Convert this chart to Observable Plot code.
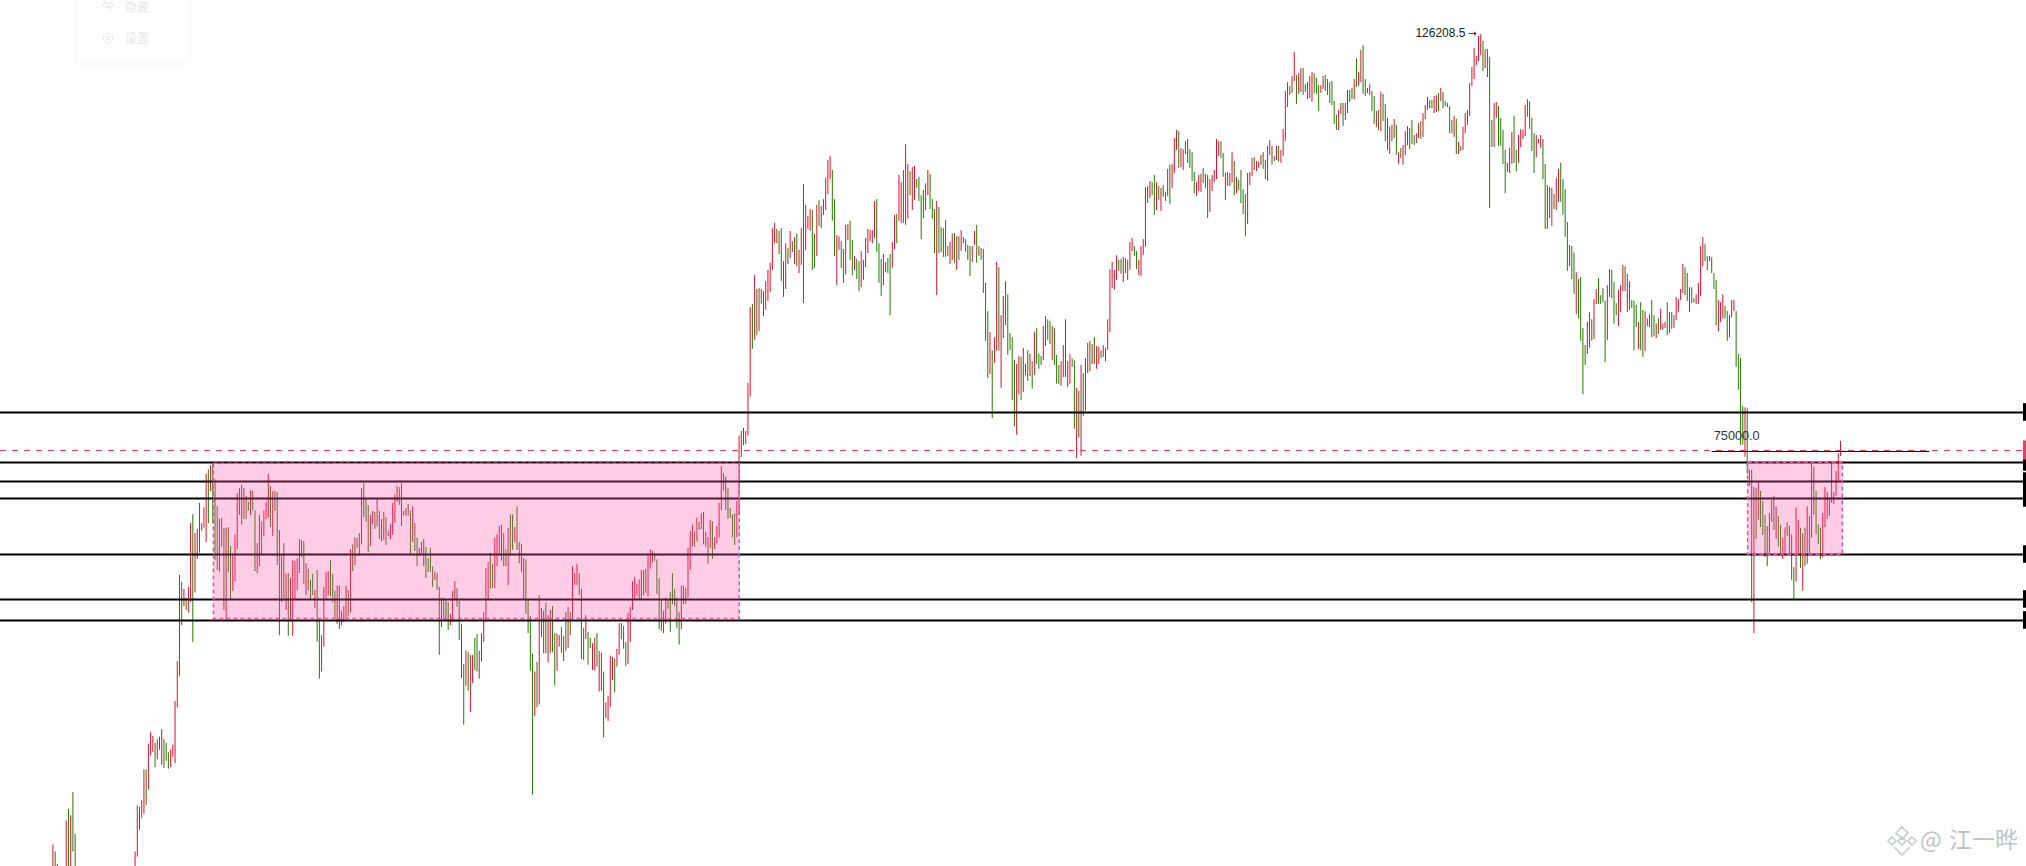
<!DOCTYPE html>
<html><head><meta charset="utf-8">
<script src="https://cdn.jsdelivr.net/npm/d3@7"></script>
<script src="https://cdn.jsdelivr.net/npm/@observablehq/plot@0.6"></script>
<style>
html,body{margin:0;padding:0;background:#fff;overflow:hidden}
#wrap{position:relative;width:2026px;height:866px;overflow:hidden}
#wrap svg.plot{display:block}
#menu{position:absolute;left:77px;top:0;width:111px;height:63px;background:#fff;border-radius:0 0 6px 6px;box-shadow:0 0 6px rgba(120,130,150,.10);font:12px/12px "Noto Sans CJK SC",sans-serif;color:#e6e8ed}
#menu div{position:absolute;left:48px}
#menu svg{position:absolute;left:24px}
#mark{position:absolute;left:1885px;top:824px;width:141px;height:34px;font:23px "Noto Sans CJK SC",sans-serif;color:#bcc6c3;white-space:nowrap}
#mark svg{position:absolute;left:0;top:0}
#mark span{position:absolute;top:-3px}
</style></head><body>
<div id="wrap">
<div id="chart"></div>
<div id="menu"><svg style="top:0" width="14" height="12" viewBox="0 0 14 12" fill="none" stroke="#e6e8ed"><path d="M1 5q6-5 12 0q-6 5-12 0zM3 1l8 9"/></svg><div style="top:1px">隐藏</div><svg style="top:32px" width="14" height="12" viewBox="0 0 14 12" fill="none" stroke="#e6e8ed"><circle cx="7" cy="6" r="5"/><circle cx="7" cy="6" r="2"/></svg><div style="top:32px">设置</div></div>
<div id="mark"><svg width="34" height="34" viewBox="0 0 34 34" fill="none" stroke="#c4ceca" stroke-width="1.6"><path d="M17 3l6 6-6 6-6-6zM7 13l4 4-4 4-4-4zM27 13l4 4-4 4-4-4zM17 13l4 4-4 4-4-4zM9 23l8 8 8-8"/></svg><span style="left:35px">@</span><span style="left:64px">江一晔</span></div>
</div>
<script>
// Prices in thousands of USD, one entry per daily candle. null = candle outside the visible price range.
const hiddenDays = 26;
const highsA=[45.9,45.5,44.8,null,null,null,47.3,48.0,47.6,49.0,46.5];
const lowsA=[44,44,44,null,null,null,44,44,44,45.5,44];
const dirsA="rgr---rgrgg";

const highsB=[45.5,48.2,48.1,48.5,50.4,50.4,52.05,52.8,52.55,52.1,
52.35,52.5,53,52.35,52.1,51.5,51.65,52,54.9,57.7,
64.25,63.7,63.15,62.45,63.3,68.55,69.3,67.7,68.05,70.3,
68.55,69.9,72.9,73.3,73.7,73.9,72.4,70,68.9,69,
68.15,68.15,68.2,66.6,66.05,67.6,71.15,71.6,71.9,71.6,
70.9,70.4,71.4,71.35,69.65,66.85,69.25,68.7,69.65,70.4,
72.9,71.8,71.35,71.35,71.25,67.95,65.85,66.85,64.35,64.4,
64,65.45,65.4,65.6,67.2,67.1,67,65.2,64.75,63.85,
64.35,63.05,64.65,60.75,59.6,63.3,64.5,64.55,65.45,64.35,
63,63.4,63.4,61.45,61.8,63.4,63.05,66.35,66.75,67.35,
67.3,67.7,71.6,72.05,70.65,70.1,69.25,69.6,69.5,70.65,
69.6,68.9,69.5,69.05,67.9,68.45,70.3,71.05,71.8,71.7,
72.05,69.6,69.85,70.2,69.6,70,68.55,67.3];
const lowsB=[44,45.2,46.75,47.45,47.7,48.2,49.15,51.3,51.5,50.55,
51.05,51.65,50.7,50.5,50.95,50.45,50.55,51.2,50.8,54.45,
56.65,60.35,61.8,61.5,61.3,62.1,59.1,62.85,65.55,66.05,
67.9,68.15,66.95,68.55,71.35,68.55,65.45,64.65,64.5,66.55,
61.5,60.75,64.5,62.3,63,63.75,66.35,69.25,68.4,68.9,
68.9,69.6,69.25,69.65,64.55,64.4,64.95,65.95,67.45,68.9,
69,68.2,67.45,69.6,65.05,59.6,62.1,62.2,61.5,59.55,
60.75,59.55,62.3,63.05,64.4,65.7,63.55,62.65,63.05,62.35,
62.65,61.65,59.1,56.45,56.95,58.75,62.3,62.65,62.55,62.1,
60.8,60.45,60.05,60.35,60.6,60.8,61,61.3,64.55,65.05,
66.45,65.8,66.75,69.05,68.65,66.1,66.6,68.45,68.05,68.3,
67.2,67,67.1,66.7,67.45,67.2,67.55,68.55,70.4,70.1,
68.3,69.2,69.2,69.2,65.95,66.95,66.2,64.95];
const dirsB="rrrrrgrrrg"+"rgrgggrrrr"+"rgrgrrgrrr"+"rrrgrgggrg"+"grggrrrrgr"+"ggrggrrgrr"+"rgrgggrgrg"+"rrrrrggrgg"+"grggrrrrgg"+"grgrrrgrgr"+"ggrgggrrgr"+"ggrgrrrrrg"+"ggrggrgg";

const highsC=[66.45,66.95,67.2,66.55,65.6,66.45,64.95,64.5,64.4,63.3,
62.45,62.45,62.3,62.1,61.2,63,63.75,63.2,62.2,60.45,
57.5,58.45,58.35,58.15,58.15,59.4,59.7,58.45,59.75,61.35,
64.8,65.3,66.05,65.15,67.3,67.6,68.3,68.4,67.7,66.35,
68.15,69.3,69.3,68.2,70,66.95,66.8,65.6,65.5,62.3,
61.05,58.25,56.95,57.65,62.65,61.65,61.45,62.05,61.1,61.5,
61.8,59.75,59.7,59.6,60.2,59.55,61.35,61.75,61.35,64.95,
64.4,65.15,64.4,63.15,60.15,61.1,59.85,59.4,59,59.4,
59.75,58.45,58.3,56.95,54.8,55.25,58.1,58,57.9,58.6,
60.5,60.5,60.3,59.1,61.3,61.75,63.75,64.1,63.55,63.9,
64.65,64.65,64.75,65.8,66.35,66.2,66.05,65.5,64,62.35,
61.45,62.45,62.3,62.9,64.4,63.15,62.45,61.35,63.4,63.4,
63.2,66.45,67.85,68.4,67.85,69,68.65,69.4,69.5,67.8,
67.35,68.8,68.7,67.35,68.3,70.3,73.6,72.95,72.65,71.6,
69.85,69.3,69.4,70.45,76.45];
const lowsC=[65.8,65.85,64.95,64,64.5,64.5,63.3,63.85,63.05,58.15,
60.2,60.75,60.75,60,60.35,60.6,62.3,61.75,59.25,56.5,
53.3,55.95,55.6,54.15,56.15,57.05,56.95,56.45,57.65,59.1,
60.6,62.3,63.15,63.2,63.2,64.95,65.85,65.4,64.95,64.95,
63.45,65.85,66.3,66.95,66.3,65.2,64.5,62.3,61.2,59.75,
57,48.85,53.85,54.45,54.65,59.45,58.25,58.25,57.6,58.3,
58.35,55.95,57,58.75,58.3,57.7,58.45,58.65,59.6,60.75,
63.45,63.45,62.65,57.85,57.8,59.3,57.45,58.65,57.05,57.05,
57.3,55.55,55.6,52.45,53.75,53.55,54.5,56.35,55.5,57.3,
58.15,59.3,58.6,57.35,57.5,59.1,61.5,62.35,62.65,62.35,
62.35,62.65,62.85,62.55,64.75,65.3,65.4,62.75,60.05,59.9,
59.75,60.45,61.6,59.85,61.95,61.8,60.15,58.9,60.05,61.95,
61.95,62.45,64.65,66.6,66.55,67,67.95,68.05,66.75,66.55,
65.15,66.45,65.55,66.35,66.85,67.3,69.65,71.4,69.65,68.9,
69,67.35,66.7,67.35,69.25];
const dirsC="rrgggggrgg"+"rgggrrrggg"+"grgrrggrrr"+"rrggrrrggg"+"rggrgggrgg"+"ggrgrgrgrr"+"ggrrgrgrgr"+"rrgggrggrr"+"grggrrrrgr"+"rgggrrrrrr"+"grgrrrgggg"+"rrggggggrr"+"grrrgrgrgr"+"grgrrrrggg"+"gggrr";

const highsD=[76.9,77.2,76.9,81.65,89.75,90.1,93.4,91.8,91.9,91.8,
91.55,92.7,94,94.85,99.05,99.7,98.95,98.7,99.05,95.05,
97.2,96.6,98.7,97.45,97.95,98.35,96.4,99.05,104.65,101.95,
100.55,101.45,101.3,98.35,101.95,102.6,101.8,102.7,105.45,107.85,
108.4,106.5,102.7,98.2,98.05,97.45,96.5,99.45,99.55,99.95,
97.6,95.65,95.3,95.05,96.25,95.2,97.85,98.95,98.8,98.8,
102.45,102.7,97.2,95.3,95.9,94.95,95.4,95.9,97.35,100.7,
100.8,105.85,104.9,106.5,110,107.3,106.35,106.9,107.05,105.3,
105.6,103.2,103.9,104.75,106.5,106,102.7,101.45,102.45,101.7,
99.2,99.05,100.05,96.85,97.35,98.35,98.45,98.05,98.05,98.8,
97.95,97.7,97,96.85,96.85,98.7,99.45,96.85,96.6,96.5,
92.5,89.3,87,85.05,86.45,94.95,94.35,88.85,91,92.7,
91.2,86.9,86.45,84.05,83.6,84.45,84.35,85.3,83.6,85.05,
84.7,83.9,87,87.45,84.7,84.45,87.65,88.75,88.4,88.2,
87.65,87.45,84.55,83.5,83.9,85.6,88.4,83.9,84.65,84.2,
84,81.15,80.85,83.5,82.65,84.2,85.85,86.05,85.7,86.45,
85.5,85.4];
const lowsD=[74.45,75.55,75.65,76.45,80.25,85.2,86.15,86.65,87.1,90.1,
88.75,89.45,90.45,91.45,94,97.2,97.2,95.9,92.7,90.9,
91.8,94.7,95.4,96.15,94.7,94.45,93.65,94.6,90.2,96.4,
98.95,98.7,94,94.25,95.65,99.3,99.05,100.7,101.3,103.35,
105.3,99.95,95.65,92.25,96.4,94.25,92.5,93.5,97.6,95.2,
93.4,94,92.95,91.55,92,92.85,94.35,96,97.45,97.2,
97.85,96.15,92.5,91,92.25,93.75,93.65,88.85,94.25,96.5,
97.2,99.95,99.7,99.7,99.45,100.2,103.2,101.3,102.6,104.15,
102.45,97.7,100.3,101.3,103.2,101.45,100.2,96,91.1,96,
96.15,95.55,95.55,95.65,94.7,95.2,94.85,94,95.2,96.25,
97.2,96.15,95.2,93.3,94.95,97,94.85,95.65,95.2,91.35,
86.05,82.15,82.55,78.15,83.7,85,85,81.15,86.35,87.75,
84.55,85.05,79.9,77.35,76.55,80.5,79.9,80.75,82.45,81.85,
82.35,81.05,82.45,83.6,83.1,83.5,84,85.5,86.15,85.7,
84,83.5,81.55,81.55,81.35,82.25,82.25,81.25,81.55,83.3,
77.1,74.35,76.25,74.55,78.35,78.85,82.65,82.85,83.6,83.6,
83.1,83.6];
const dirsD="rrrrrgrgrg"+"grrrrrgrgg"+"rgrgrgrrgr"+"rrggrgrrrr"+"rggrrggrrg"+"grggrrrrrr"+"rgggrgggrr"+"grrgrrgrrg"+"gggrrgggrg"+"ggggrrgrgr"+"rgggrrgrgg"+"ggrgrrgrrg"+"ggggrrgrrg"+"rgrgggrrgg"+"rgggrrgrrg"+"grgrgrrgrg"+"rr";

const highsE=[85.05,85.6,85.3,88.4,94.1,94.95,94,95.75,95.2,95.3,
95.55,95.4,95.2,97.35,97.85,96.85,96.25,95.2,96.85,97.7,
104.25,104.4,105.05,104.9,105.85,104.9,104.4,104.15,104.5,103.6,
106.65,107.2,107.3,110.85,111.95,111.8,109.45,109.3,110.4,110.7,
109.3,108.9,106.25,104.9,105.85,106,106.75,106,105.85,105.3,
105.85,106.5,110.7,110.4,110.4,108.8,106.1,106.25,106.1,108.9,
107.7,105.6,105.2,106.5,104,103.35,106.1,106.25,108.1,108.2,
107.7,107.6,108.5,108.9,107.85,109.75,110.55,109.75,108.35,109.75,
109.75,109.2,112.1];
const lowsE=[84.2,84.35,83.9,85.05,87,91.9,91.7,92.85,93.9,93.55,
92.6,93.65,92.85,94,96.25,95.65,94.1,93.4,93.3,95.75,
96.75,102.2,102.85,103.2,100.7,101.3,102.6,101.2,103,102.45,
103.1,102.05,104.15,106.1,109.2,106.75,106.9,106.5,108.65,107.45,
106.75,105.05,103.45,103.1,103.75,103.6,104.8,104.15,100.3,101.05,
103.75,104.9,105.3,108.35,108.1,105.6,102.6,104.4,104.4,104.9,
103.2,103.45,103.85,102.2,100.8,98.05,99.55,104.5,105.7,106.5,
106.35,106.75,107.2,106.65,105.3,105.05,108.5,107.2,107.7,107.85,
107.6,107.45,108.35];
const dirsE="grrrrrrrgg"+"rggrrggrrr"+"rgrggrgrgg"+"rgrrrgrrrg"+"gggrrrgggr"+"rrrrggrgrr"+"grggggrrrg"+"rrrggrrgrr"+"grr";

const highsF=[117.55,118.85,118.25,119.75,123.4,119.9,120.2,120.95,120.95,118.55,
118.85,119.75,120.35,120.2,119.45,118.4,118.4,119.75,119.9,119.3,
118.85,119,116.1,114.1,114.8,115.8,115.8,115.8,117.7,117.7,
118,119.3,122.45,120.35,123.7,124.45,119.3,118,118.55,117.55,
116.8,114.65,114.8,117.4,117.1,115.65,113.65,112.4,112.65,113.5,
112.65,108.9,109.45,109.85,111.8,112.5,112.25];
const lowsF=[110.4,115.2,116.95,117.25,119,115.65,117.1,117.4,116.95,117.4,
116.35,116.5,115.95,117.25,117.1,114.65,117.25,117.85,117.55,116.95,
115.8,115.5,112.8,111.95,111.95,114.2,112.5,113.35,114.35,115.95,
116.35,116.35,118.1,118.25,118.85,117.1,116.8,117.25,116.95,114.65,
112.8,112.4,111.95,111.8,113.2,110.4,109.2,108.65,110.4,110.85,
108.5,107.3,108.1,107.2,108.5,109.85,109.3];
const dirsF="rrgrrgrrgg"+"grrgggrrgg"+"ggggrrgrrg"+"grgrrggrrg"+"grgrgggrgr"+"grgrrrg";

const highsG=[113.35,111.25,111.5,112.95,113.2,114.35,115.5,116.65,116.2,116.2,
116.8,116.95,117.25,118,117.4,116.05,115.8,115.35,113.35,113.95,
113.5,110.3,109.75,112.4,114.35,114.8,118.7,121.1,124,122.8,
125.9,126.2085,125.1,123.85,123.85,122.65,113.35,115.8,115.95,115.35,
113.65,111.95,109.2,107.45,109.45,111.65,113.95,109.2,111.25,112.1,
111.95,115.5,116.35,116.05,113.65,111.5,111.25,110.7,111.25,110.7,
107.3,104.5,104.25,104.15,103.35,105.45,106.65,107.45,105.3,104,
99.8,97,96.85,96.1,93.75,92.95,93.2,87.45,85.6,88.1,
89.2,88.4,90.65,91.8,93.05,91.1,91.9,90.45,92.25,94.1,
94,92.6,90.2,91.7,92.25,94.6,94.45,93.55,92.7,90.55,
90.45,90,88.1,90.3,89.45,89.3,88.5,88.95,90.55,88.85,
87.95,88.5,89.55,87.95,88.1,90.3,89.2,89.2,88.85,90.9,
90.65,91.8,94.7,94.35,93.65,92,92,90.75,91.2,92.5,
96.85,97.95,97.1,95.65,95.65,95.55,93.65,92.85,90.55,90.3,
91.2,89.9,89.3,88.85,90.55,90.55,89.3,84.65];
const lowsG=[110,109.85,110.15,110.85,110.7,111,113.5,114.8,115.05,115.05,
114.35,114.5,114.65,116.05,115.05,115.35,115.2,111.5,111.5,111,
108.65,108.65,109.05,109.2,111.5,112.65,113.95,118.25,119.3,121.4,
122,122.9,120.5,120.95,119.6,101.55,109.6,109.6,113.65,109.75,
109.75,107.3,103.45,106.25,106.1,107.3,107.45,106.35,107.45,109.6,
110.7,111.1,113.8,112.1,109.05,106.1,108.2,110.15,109.45,105.3,
98.95,98.95,100.3,99.3,101.45,101.3,102.35,102.35,100.7,98,
93.9,94.45,92.95,91.25,88.95,88.5,86.05,80.5,83.5,84.65,
85.3,86.05,86.25,90.1,90.1,90.1,90.3,83.8,86.15,90.9,
90.75,87.9,88.85,87.65,89.2,91.55,91.55,89.2,89.45,89.65,
85.05,87.55,85.15,85.05,84.35,84.95,87.65,87.55,86.45,86.55,
86.35,86.8,87.25,87.25,87.45,86.65,86.9,87.35,87.45,88.3,
89.2,90.55,91.35,91.1,90.45,89.2,90.2,90.3,90.1,90.1,
91,94.45,95.05,94,95.05,93.65,91.8,87.75,87.1,88.1,
88.5,88.5,86.05,86.45,88.6,89.3,83.3,80.95];
const dirsG="ggrrgrrrgg"+"rrgrgggggr"+"grgrrgrrrr"+"rrgrgggrrg"+"gggrrrggrr"+"rrggggrrrg"+"grgrgrrggg"+"grggrggggr"+"rgrrggggrr"+"gggrrrgrgg"+"ggrggrrggg"+"rgrrrgggrr"+"rrrgggggrr"+"rrggggggrr"+"rggrrrgg";

const highsH=[84.25,79.3,79.2,79.1,73.25,73.25,71.7,71.6,72.15,71.35,
70.45,69.25,68.3,69.4,70.55,70.9,70,69.15,68.4,67.3,
68.2,68.65,68.3,67.6,64.9,69.9,68.8,68.15,67.7,68.15,
70,69.15,74,73.55,71.35,68.45,68.15,69.4,71.7,71.25,
70.75,73.9,71.25,73.15,74.8,75.95];
const lowsH=[75.55,75.6,74.45,72.9,71.8,62.1,59.75,67.2,68.8,68.2,
67.55,65.7,64.95,65.95,68.65,67.95,67.2,66.55,65.85,65.55,
65.85,67.45,65.85,63.85,62.35,63.75,65.85,64.8,63,64.95,
65.15,65.85,67.3,69.25,67.6,66.75,65.55,65.7,68.2,68.9,
69.15,70.3,70.2,70.9,72.25,74.55];
const dirsH="ggrgggrgrg"+"gggrrgrggr"+"rggggrrgrg"+"rgrggggrrr"+"rrrrrr";

// Horizontal price levels and other annotations (thousands of USD)
const levels=[78.74,73.98,72.24,70.73,65.95,62.35,60.74];
const dashedLevel=75.09;
const zones=[
  {from:-732.5,to:-495.7,top:73.87,bottom:60.85},
  {from:-41.6,to:1.04,top:73.95,bottom:65.9}
];
const marker={from:-57.8,to:40.2,price:75};
const peakLabel="126208.5", peakArrow="→", peakPrice=126.2085, peakDay=-168.9, arrowDay=-167.6;
const levelLabel="75000.0", levelDay=-57.05;
const dayDomain=[-828.6,83.76], priceDomain=[44.68,131.67];
const tickFrom=82.4;

const segs=[[highsA,lowsA,dirsA],[Array(hiddenDays).fill(null),Array(hiddenDays).fill(null),"-".repeat(hiddenDays)],
 [highsB,lowsB,dirsB],[highsC,lowsC,dirsC],[highsD,lowsD,dirsD],[highsE,lowsE,dirsE],[highsF,lowsF,dirsF],[highsG,lowsG,dirsG],[highsH,lowsH,dirsH]];
segs.forEach((s,k)=>{ if(s[0].length!==s[1].length||s[0].length!==s[2].length) throw new Error("segment "+k+" "+s[0].length+" "+s[1].length+" "+s[2].length); });
const highs=segs.flatMap(s=>s[0]), lows=segs.flatMap(s=>s[1]), dirs=segs.map(s=>s[2]).join("");
const N=highs.length;
const candles=highs.map((h,i)=>({day:i-(N-1),high:h,low:lows[i],dir:dirs[i]}));
const RED="#d9102f", GREEN="#267a00";

const chart=Plot.plot({
  width:2026,height:866,margin:0,
  x:{domain:dayDomain,range:[0,2026],axis:null},
  y:{type:"log",domain:priceDomain,range:[866,0],axis:null},
  style:{background:"#fff"},
  marks:[
    Plot.ruleX(candles,{x:"day",y1:"low",y2:"high",stroke:d=>d.dir==="r"?RED:GREEN,strokeWidth:1,clip:true}),
    Plot.ruleY(levels,{x1:dayDomain[0],x2:tickFrom,y:d=>d,stroke:"#000",strokeWidth:2}),
    Plot.rect(levels,{x1:tickFrom,x2:dayDomain[1],y1:d=>d*1.011,y2:d=>d/1.011,fill:"#000"}),
    Plot.ruleY([dashedLevel],{x1:dayDomain[0],x2:tickFrom,y:d=>d,stroke:"#f0365a",strokeWidth:1,strokeDasharray:"6,6"}),
    Plot.rect([dashedLevel],{x1:tickFrom,x2:dayDomain[1],y1:d=>d*1.012,y2:d=>d/1.012,fill:"#e5405e"}),
    Plot.rect(zones,{x1:"from",x2:"to",y1:"bottom",y2:"top",fill:"#fb55aa",fillOpacity:.3,stroke:"#f04ea0",strokeWidth:1.5,strokeDasharray:"4,3"}),
    Plot.ruleY([marker],{x1:"from",x2:"to",y:"price",stroke:"#000",strokeWidth:1}),
    Plot.text([peakLabel],{x:peakDay,y:peakPrice,text:d=>d,textAnchor:"end",fontSize:12,fontFamily:"Liberation Sans",fill:"#222",dy:-1}),
    Plot.text([peakArrow],{x:arrowDay,y:peakPrice,text:d=>d,textAnchor:"start",fontSize:10,fontFamily:"DejaVu Sans",fill:"#111",dy:-1}),
    Plot.text([levelLabel],{x:levelDay,y:dashedLevel,text:d=>d,textAnchor:"start",fontSize:12.7,fontFamily:"Liberation Sans",fill:"#333",dy:-15})
  ]
});
document.getElementById("chart").appendChild(chart);
</script>
</body></html>
